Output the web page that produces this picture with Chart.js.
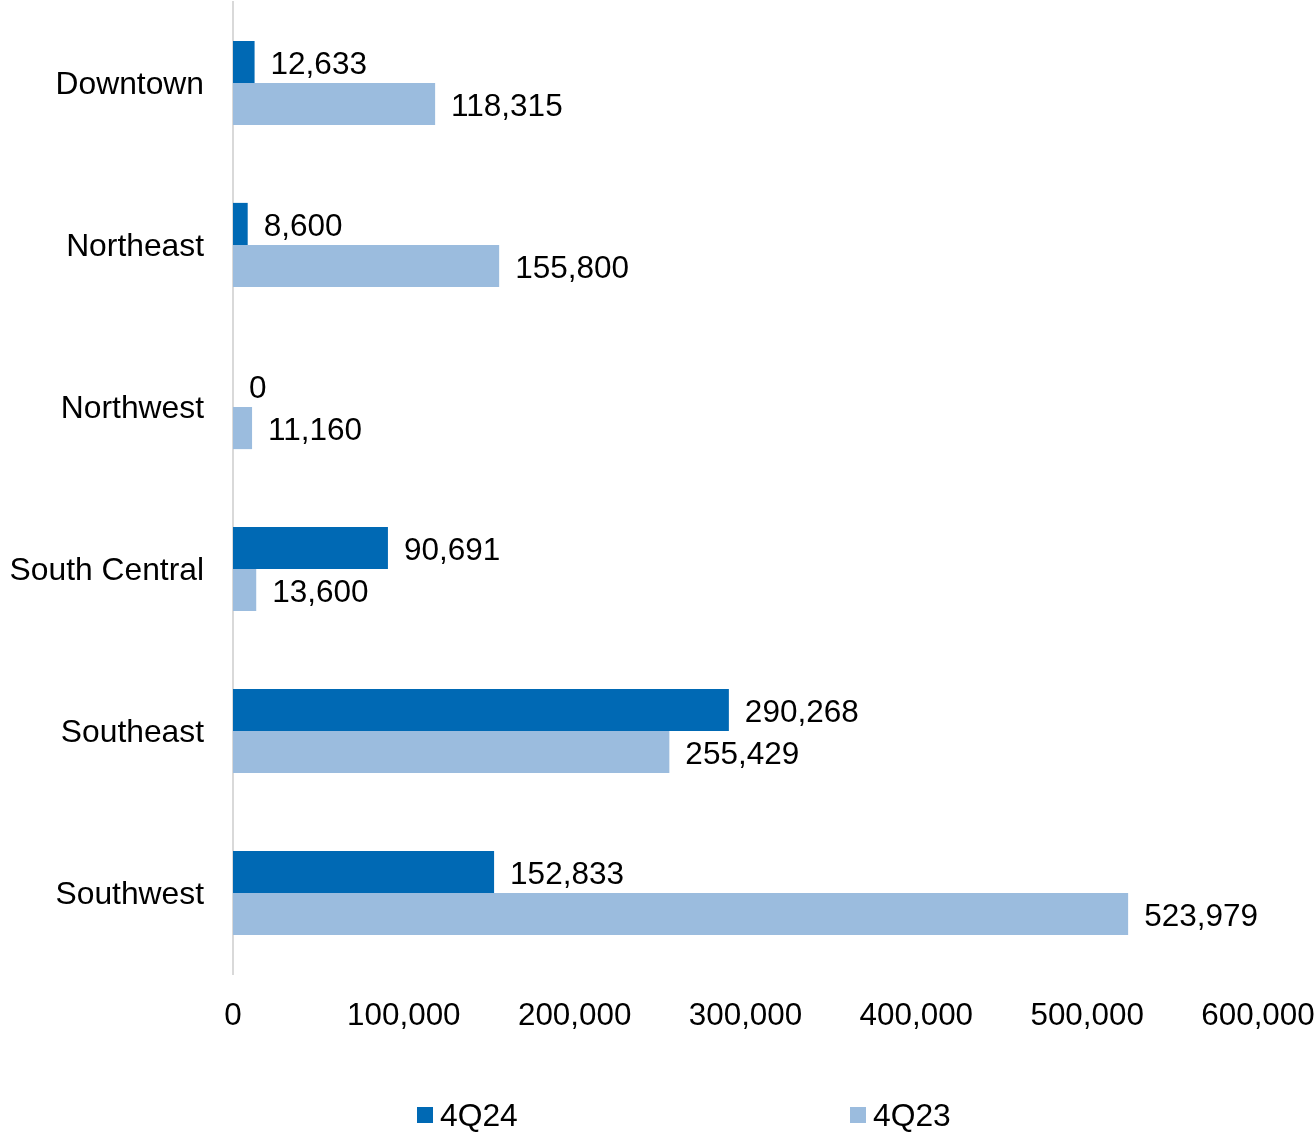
<!DOCTYPE html>
<html>
<head>
<meta charset="utf-8">
<title>Under construction by submarket</title>
<script src="https://cdn.jsdelivr.net/npm/chart.js@4/dist/chart.umd.min.js"></script>
<style>
  html, body { margin: 0; padding: 0; background: #ffffff; }
  #wrap { position: relative; width: 1315px; height: 1134px; }
  #chart { position: absolute; left: 0; top: 0; }
  .legend-item { position: absolute; top: 1098px; display: flex; align-items: center;
    font-family: "Liberation Sans", Arial, sans-serif; font-size: 31.8px; color: #000; line-height: 34px; }
  .legend-box { width: 16px; height: 16px; margin-right: 7px; }
</style>
</head>
<body>
<div id="wrap">
  <canvas id="chart" width="1315" height="1134"></canvas>
</div>
<script>
const submarkets = ["Downtown", "Northeast", "Northwest", "South Central", "Southeast", "Southwest"];
const seriesNames = ["4Q24", "4Q23"];
const values4Q24 = [12633, 8600, 0, 90691, 290268, 152833];
const values4Q23 = [118315, 155800, 11160, 13600, 255429, 523979];
const axisTicks = [0, 100000, 200000, 300000, 400000, 500000, 600000];
const seriesColors = ["#0069B4", "#9BBCDE"];

const FONT = '"Liberation Sans", Arial, sans-serif';
const fmt = v => Number(v).toLocaleString("en-US");

// Value labels just past the end of each bar
const barValueLabels = {
  id: "barValueLabels",
  afterDatasetsDraw(chart) {
    const ctx = chart.ctx;
    ctx.save();
    ctx.font = "31.5px " + FONT;
    ctx.fillStyle = "#000000";
    ctx.textAlign = "left";
    ctx.textBaseline = "middle";
    chart.data.datasets.forEach((ds, i) => {
      const meta = chart.getDatasetMeta(i);
      meta.data.forEach((bar, j) => {
        ctx.fillText(fmt(ds.data[j]), bar.x + 16, bar.y + 3);
      });
    });
    ctx.restore();
  }
};

const chart = new Chart(document.getElementById("chart"), {
  type: "bar",
  data: {
    labels: submarkets,
    datasets: [
      { label: seriesNames[0], data: values4Q24, backgroundColor: seriesColors[0] },
      { label: seriesNames[1], data: values4Q23, backgroundColor: seriesColors[1] }
    ]
  },
  options: {
    indexAxis: "y",
    responsive: false,
    devicePixelRatio: 1,
    animation: false,
    categoryPercentage: 0.52,
    barPercentage: 1,
    layout: { padding: { top: 2, right: 57, bottom: 0, left: 0 } },
    plugins: {
      legend: { display: false },
      tooltip: { enabled: false }
    },
    scales: {
      x: {
        min: axisTicks[0],
        max: axisTicks[axisTicks.length - 1],
        afterBuildTicks(scale) { scale.ticks = axisTicks.map(v => ({ value: v })); },
        grid: { display: false },
        border: { display: false },
        ticks: {
          padding: 16,
          color: "#000000",
          font: { family: FONT, size: 31.4 },
          maxRotation: 0,
          callback: v => fmt(v)
        },
        afterFit(scale) {
          scale.height = 160;
          scale.paddingLeft = 0;
          scale.paddingRight = 0;
        }
      },
      y: {
        grid: { display: false },
        border: { display: true, color: "#D9D9D9", width: 2 },
        ticks: {
          padding: 21,
          labelOffset: 2,
          color: "#000000",
          font: { family: FONT, size: 31.8 }
        },
        afterFit(scale) {
          scale.width = 233;
          scale.paddingTop = 0;
          scale.paddingBottom = 0;
        }
      }
    }
  },
  plugins: [barValueLabels]
});

// Legend below the chart, built from the datasets
const wrap = document.getElementById("wrap");
const legendLeft = [417, 850];
chart.data.datasets.forEach((ds, i) => {
  const item = document.createElement("div");
  item.className = "legend-item";
  item.style.left = legendLeft[i] + "px";
  const box = document.createElement("span");
  box.className = "legend-box";
  box.style.background = ds.backgroundColor;
  const text = document.createElement("span");
  text.textContent = ds.label;
  item.appendChild(box);
  item.appendChild(text);
  wrap.appendChild(item);
});
</script>
</body>
</html>
